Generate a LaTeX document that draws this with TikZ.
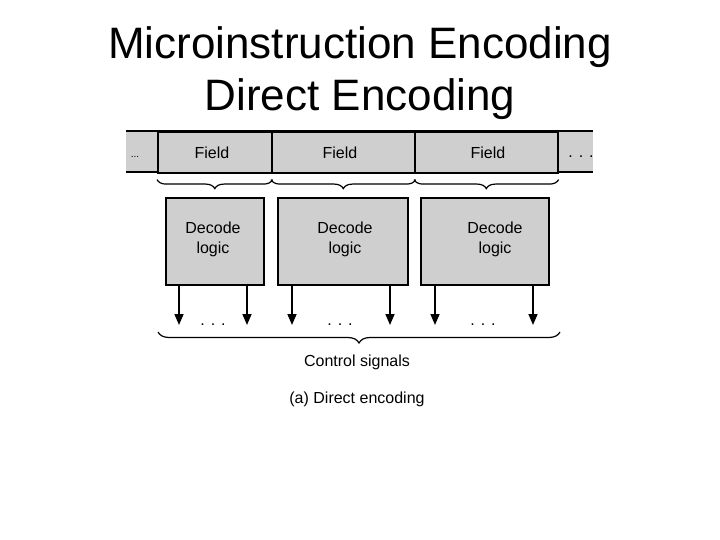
\documentclass[tikz,border=0pt]{standalone}
\usepackage{fontspec}
\setmainfont{Liberation Sans}
\usetikzlibrary{decorations.pathreplacing,arrows.meta}
\definecolor{boxgray}{RGB}{207,207,207}
\begin{document}
\begin{tikzpicture}[x=1pt,y=-1pt,
  lbl/.style={font=\fontsize{16}{19}\selectfont, inner sep=0pt},
  dots/.style={lbl, anchor=base},
  fieldbox/.style={draw, fill=boxgray, line width=1.6pt, minimum height=41pt, inner sep=0pt, anchor=north west, lbl},
  decbox/.style={draw, fill=boxgray, line width=1.6pt, minimum height=87pt, inner sep=0pt, anchor=north west},
  brc/.style={decorate, decoration={brace, mirror, amplitude=9pt}, line width=1.2pt},
  arr/.style={line width=1.6pt, -{Triangle[width=9pt,length=11pt]}},
  ttl/.style={font=\fontsize{44}{52}\selectfont, anchor=base, inner sep=0pt}]
\useasboundingbox (0,0) rectangle (720,540);
% title
\node[ttl] (t1) at (360,59) {Microinstruction Encoding};
\node[ttl] (t2) at (360,111) {Direct Encoding};
% end pieces of the bar
\fill[boxgray] (126,131) rectangle (593,172);
\draw[line width=1.6pt] (126,131) -- (593,131);
\draw[line width=1.6pt] (126,172) -- (593,172);
\node[dots, font=\fontsize{10}{12}\selectfont] (ld) at (135,158) {...};
\node[dots] (rd) at (581,158) {. . .};
% fields
\node[fieldbox, minimum width=114pt] (f1) at (157,131) {};
\node[fieldbox, minimum width=143pt] (f2) at (271,131) {};
\node[fieldbox, minimum width=143pt] (f3) at (414,131) {};
\node[lbl] (ft1) at (212,153) {Field};
\node[lbl] (ft2) at (340,153) {Field};
\node[lbl] (ft3) at (488,153) {Field};
% braces under fields
\path (f1.south west) ++(0,6) coordinate (bl1);
\path (f1.south east) ++(0,6) coordinate (br1);
\path (f2.south west) ++(0,6) coordinate (bl2);
\path (f2.south east) ++(0,6) coordinate (br2);
\path (f3.south west) ++(0,6) coordinate (bl3);
\path (f3.south east) ++(0,6) coordinate (br3);
\draw[brc] (bl1) -- (br1);
\draw[brc] (bl2) -- (br2);
\draw[brc] (bl3) -- (br3);
% decode boxes
\node[decbox, minimum width=98pt] (b1) at (165,197) {};
\node[decbox, minimum width=130pt] (b2) at (277,197) {};
\node[decbox, minimum width=128pt] (b3) at (420,197) {};
\node[lbl, align=center] (d1) at (213,239) {Decode\\[1pt]logic};
\node[lbl, align=center] (d2) at (345,239) {Decode\\[1pt]logic};
\node[lbl, align=center] (d3) at (495,239) {Decode\\[1pt]logic};
% arrows
\coordinate (e1) at (179,325);
\coordinate (e2) at (247,325);
\coordinate (e3) at (292,325);
\coordinate (e4) at (390,325);
\coordinate (e5) at (435,325);
\coordinate (e6) at (533,325);
\draw[arr] (e1 |- b1.south) -- (e1);
\draw[arr] (e2 |- b1.south) -- (e2);
\draw[arr] (e3 |- b2.south) -- (e3);
\draw[arr] (e4 |- b2.south) -- (e4);
\draw[arr] (e5 |- b3.south) -- (e5);
\draw[arr] (e6 |- b3.south) -- (e6);
\node[dots] (s1) at (213,325) {. . .};
\node[dots] (s2) at (340,325) {. . .};
\node[dots] (s3) at (483,325) {. . .};
% big brace
\coordinate (cl) at (158,332);
\coordinate (cr) at (560,332);
\draw[brc, decoration={amplitude=11pt}] (cl) -- (cr);
\node[lbl] (cs) at (357,362) {Control signals};
\node[lbl] (cap) at (357,399) {(a) Direct encoding};
\end{tikzpicture}
\end{document}
